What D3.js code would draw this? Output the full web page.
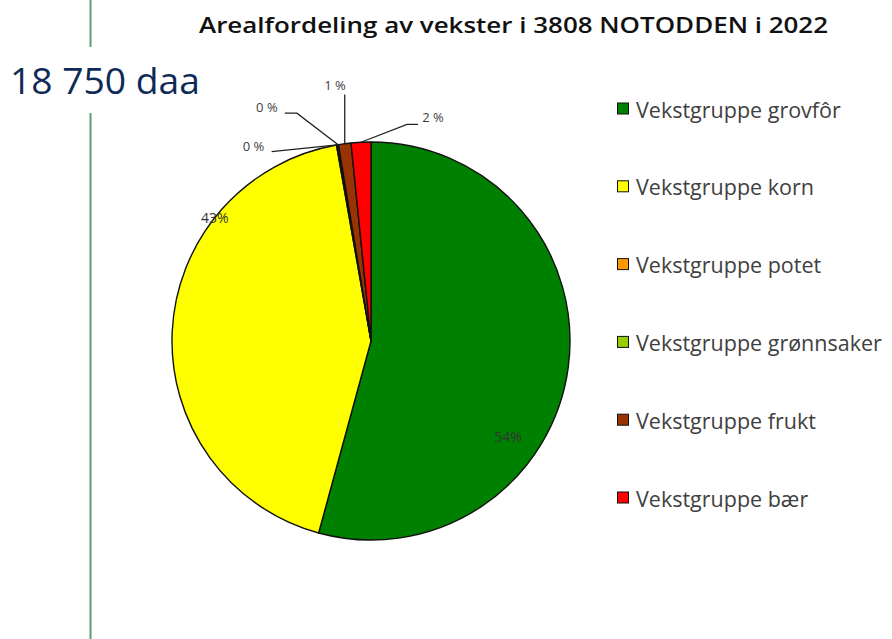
<!DOCTYPE html>
<html>
<head>
<meta charset="utf-8">
<script src="https://cdn.jsdelivr.net/npm/d3@7"></script>
<style>
  body { margin: 0; background: #fff; }
  svg { display: block; }
</style>
</head>
<body>
<svg id="chart" width="892" height="639"></svg>
<script>
// vekstgrupper (daa)
const groups = ["Vekstgruppe grovfôr", "Vekstgruppe korn", "Vekstgruppe potet",
                "Vekstgruppe grønnsaker", "Vekstgruppe frukt", "Vekstgruppe bær"];
const areas = [10170, 8060, 20, 10, 190, 300];
const colors = ["#008000", "#ffff00", "#ff9900", "#99cc00", "#993300", "#ff0000"];
const totalText = "18 750 daa";
const title = "Arealfordeling av vekster i 3808 NOTODDEN i 2022";

// label placement: inside = [fraction along slice, radius factor], outside = [angle deg, radius]
const labelPlace = [
    {inside: true, at: [0.64, 0.84]},
    {inside: true, at: [0.73, 1.0]},
    {inside: false, at: [329, 228]},
    {inside: false, at: [336, 256]},
    {inside: false, at: [352, 259]},
    {inside: false, at: [15.5, 232]}
];

const svg = d3.select("#chart");
const cx = 371, cy = 341, R = 199;

// side rule + total
svg.append("line")
    .attr("x1", 90.5).attr("x2", 90.5).attr("y1", 0).attr("y2", 47)
    .attr("stroke", "#5a9e78").attr("stroke-width", 2);
svg.append("line")
    .attr("x1", 90.5).attr("x2", 90.5).attr("y1", 113).attr("y2", 639)
    .attr("stroke", "#5a9e78").attr("stroke-width", 2);

svg.append("text")
    .attr("x", 10).attr("y", 94)
    .attr("font-family", "Open Sans")
    .attr("font-size", 36)
    .attr("fill", "#0e2a57")
    .attr("textLength", 190)
    .attr("lengthAdjust", "spacingAndGlyphs")
    .text(totalText);

svg.append("text")
    .attr("x", 199).attr("y", 33)
    .attr("font-family", "Open Sans")
    .attr("font-weight", 600)
    .attr("font-size", 21)
    .attr("fill", "#111")
    .attr("textLength", 629)
    .attr("lengthAdjust", "spacingAndGlyphs")
    .text(title);

const total = d3.sum(areas);
const pie = d3.pie().sort(null).value(d => d);
const arcs = pie(areas);
const arc = d3.arc().innerRadius(0).outerRadius(R);

const g = svg.append("g").attr("transform", `translate(${cx},${cy})`);

g.selectAll("path")
    .data(arcs)
    .join("path")
    .attr("d", arc)
    .attr("fill", (d, i) => colors[i])
    .attr("stroke", "#111")
    .attr("stroke-width", 1.4)
    .attr("stroke-linejoin", "round");

const pct = v => Math.round(v / total * 100);

// labels
arcs.forEach((d, i) => {
    const p = labelPlace[i];
    if (p.inside) {
        const a = d.startAngle + (d.endAngle - d.startAngle) * p.at[0];
        const [x, y] = d3.pointRadial(a, R * p.at[1]);
        g.append("text")
            .attr("x", x).attr("y", y)
            .attr("text-anchor", "middle")
            .attr("dominant-baseline", "central")
            .attr("font-family", "Open Sans")
            .attr("font-size", 14)
            .attr("fill", "#333")
            .text(pct(d.value) + "%");
    } else {
        const mid = (d.startAngle + d.endAngle) / 2;
        const [sx, sy] = d3.pointRadial(mid, R);
        const [lx, ly] = d3.pointRadial(p.at[0] * Math.PI / 180, p.at[1]);
        let pts;
        if (Math.abs(lx - sx) < 20) {
            pts = [[sx, sy], [sx, ly + 10]];
        } else if (lx < sx) {
            const ex = lx + 18, ey = ly + 6;
            pts = ly < -225 ? [[sx, sy], [ex + 12, ey], [ex, ey]] : [[sx, sy], [ex, ey]];
        } else {
            const ex = lx - 15, ey = ly + 7;
            pts = [[sx, sy], [ex - 11, ey], [ex, ey]];
        }
        g.append("path")
            .attr("d", d3.line()(pts))
            .attr("fill", "none")
            .attr("stroke", "#222")
            .attr("stroke-width", 1.3);
        g.append("text")
            .attr("x", lx).attr("y", ly)
            .attr("text-anchor", "middle")
            .attr("dominant-baseline", "central")
            .attr("font-family", "Open Sans")
            .attr("font-size", 13)
            .attr("fill", "#404040")
            .text(pct(d.value) + " %");
    }
});

// legend
const legend = svg.append("g").attr("transform", "translate(617,109)");
const rows = legend.selectAll("g")
    .data(groups)
    .join("g")
    .attr("transform", (d, i) => `translate(0,${i * 77.8})`);

rows.append("rect")
    .attr("x", 0.5).attr("y", -6)
    .attr("width", 11).attr("height", 11)
    .attr("fill", (d, i) => colors[i])
    .attr("stroke", "#111")
    .attr("stroke-width", 1);

rows.append("text")
    .attr("x", 19).attr("y", 0)
    .attr("dominant-baseline", "central")
    .attr("font-family", "Open Sans")
    .attr("font-size", 21.5)
    .attr("fill", "#404040")
    .text(d => d);
</script>
</body>
</html>
